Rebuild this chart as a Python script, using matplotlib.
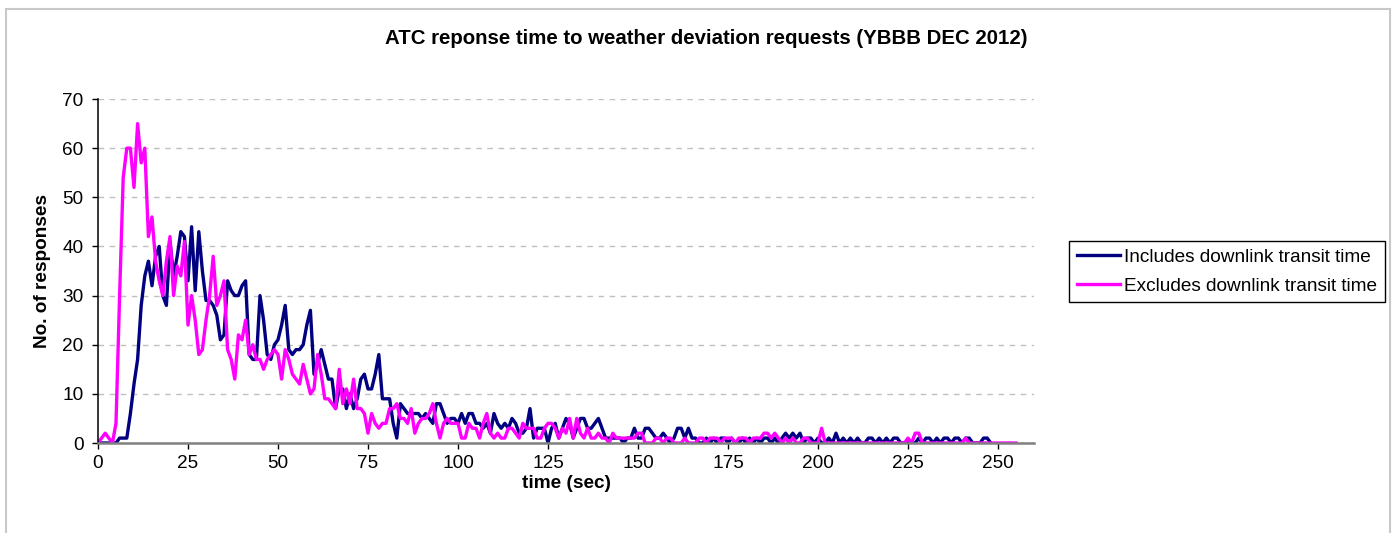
import numpy as np
import matplotlib
matplotlib.use("Agg")
import matplotlib.pyplot as plt
from matplotlib.patches import Rectangle

plt.rcParams['font.family'] = ['Liberation Sans', 'DejaVu Sans']

# counts of responses per 1 sec bin
includes = [
    0, 0, 0, 0, 0, 0, 1, 1, 1, 6,
    12, 17, 28, 34, 37, 32, 38, 40, 30, 28,
    41, 34, 38, 43, 42, 33, 44, 31, 43, 35,
    29, 29, 28, 26, 21, 22, 33, 31, 30, 30,
    32, 33, 18, 17, 17, 30, 25, 18, 17, 20,
    21, 24, 28, 19, 18, 19, 19, 20, 24, 27,
    14, 16, 19, 16, 13, 13, 7, 11, 11, 7,
    10, 7, 9, 13, 14, 11, 11, 14, 18, 9,
    9, 9, 4, 1, 8, 7, 6, 6, 6, 6,
    5, 6, 5, 4, 8, 8, 6, 4, 5, 5,
    4, 6, 4, 6, 6, 4, 4, 3, 4, 2,
    6, 4, 3, 4, 3, 5, 4, 2, 2, 3,
    7, 1, 3, 3, 3, 0, 3, 4, 1, 3,
    5, 4, 1, 3, 5, 5, 3, 3, 4, 5,
    3, 1, 1, 1, 1, 1, 0, 1, 1, 3,
    1, 1, 3, 3, 2, 1, 1, 2, 1, 0,
    1, 3, 3, 1, 3, 1, 1, 0, 0, 1,
    0, 1, 0, 1, 1, 0, 1, 0, 0, 1,
    0, 1, 0, 1, 0, 1, 1, 0, 1, 0,
    1, 2, 1, 2, 1, 2, 0, 1, 1, 0,
    1, 0, 0, 1, 0, 2, 0, 1, 0, 1,
    0, 1, 0, 0, 1, 1, 0, 1, 0, 1,
    0, 1, 1, 0, 0, 0, 0, 0, 1, 0,
    1, 1, 0, 1, 0, 1, 1, 0, 1, 1,
    0, 1, 1, 0, 0, 0, 1, 1, 0]

excludes = [
    0, 1, 2, 1, 0, 4, 30, 54, 60, 60,
    52, 65, 57, 60, 42, 46, 37, 33, 30, 37,
    42, 30, 36, 34, 41, 24, 30, 25, 18, 19,
    25, 30, 38, 28, 30, 33, 19, 17, 13, 22,
    21, 25, 18, 20, 17, 17, 15, 17, 18, 19,
    18, 13, 19, 17, 14, 13, 12, 16, 13, 10,
    11, 18, 14, 9, 9, 8, 7, 15, 8, 11,
    8, 13, 7, 7, 6, 2, 6, 4, 3, 4,
    4, 7, 7, 8, 5, 5, 4, 7, 2, 4,
    5, 5, 6, 8, 4, 1, 4, 5, 4, 4,
    4, 1, 1, 4, 3, 3, 1, 4, 6, 2,
    1, 2, 1, 1, 3, 3, 2, 1, 4, 3,
    3, 3, 1, 1, 3, 4, 4, 3, 1, 3,
    2, 5, 1, 5, 2, 1, 3, 1, 1, 2,
    1, 1, 0, 2, 1, 1, 1, 1, 1, 1,
    2, 2, 0, 0, 0, 1, 1, 0, 1, 1,
    0, 0, 0, 1, 0, 0, 0, 1, 1, 0,
    1, 1, 1, 0, 1, 1, 1, 0, 1, 1,
    1, 0, 1, 1, 1, 2, 2, 1, 2, 1,
    0, 1, 0, 1, 0, 0, 1, 1, 0, 0,
    0, 3, 0, 0, 0, 0, 0, 0, 0, 0,
    0, 0, 0, 0, 0, 0, 0, 0, 0, 0,
    0, 0, 0, 0, 0, 1, 0, 2, 2, 0,
    0, 0, 0, 0, 0, 0, 0, 0, 0, 0,
    0, 1, 0, 0, 0, 0, 0, 0, 0, 0,
    0, 0, 0, 0, 0, 0]

t_inc = np.arange(len(includes))
t_exc = np.arange(len(excludes))

xticks = [0, 25, 50, 75, 100, 125, 150, 175, 200, 225, 250]
yticks = [0, 10, 20, 30, 40, 50, 60, 70]

W, H = 1395, 533
fig = plt.figure(figsize=(W / 100, H / 100), dpi=100)
ax = fig.add_axes([98 / W, 1 - 443 / H, (1034 - 98) / W, (443 - 99) / H])

ax.plot(t_inc, includes, color='#000080', lw=2.4, label='Includes downlink transit time')
ax.plot(t_exc, excludes, color='#FF00FF', lw=2.4, label='Excludes downlink transit time')

ax.set_xlim(0, 260)
ax.set_ylim(0, 70)
ax.set_xticks(xticks)
ax.set_yticks(yticks)
ax.yaxis.grid(True, color='#c0c0c0', linestyle=(0, (4, 4)), lw=1)
ax.set_axisbelow(True)

for s in ['top', 'right']:
    ax.spines[s].set_visible(False)
ax.spines['left'].set_color('black')
ax.spines['left'].set_linewidth(1.1)
ax.spines['bottom'].set_color('#808080')
ax.spines['bottom'].set_linewidth(1.8)
ax.tick_params(axis='both', direction='out', length=4.5, width=1, color='black',
               labelsize=13.7, colors='black')
ax.tick_params(axis='y', pad=6)
ax.tick_params(axis='x', pad=4)

ax.set_xlabel('time (sec)', fontsize=13.7, fontweight='bold', labelpad=2)
ax.set_ylabel('No. of responses', fontsize=13.7, fontweight='bold', labelpad=8)

fig.text(706 / W, 1 - 39 / H, 'ATC reponse time to weather deviation requests (YBBB DEC 2012)',
         ha='center', va='center', fontsize=14.7, fontweight='bold')

leg = ax.legend(loc='upper left', bbox_to_anchor=(1069 / W, 1 - 241 / H),
                bbox_transform=fig.transFigure, borderaxespad=0, fontsize=13.7,
                frameon=True, fancybox=False, edgecolor='black', framealpha=1,
                handlelength=2.3, handletextpad=0.2, borderpad=0.4, labelspacing=0.6)
leg.get_frame().set_linewidth(1)

fig.patches.append(Rectangle((6 / W, -0.02), (1390 - 6) / W, 1 - 9 / H + 0.02,
                             transform=fig.transFigure, fill=False,
                             edgecolor='#c8c8c8', lw=1.5))

fig.savefig('out.png', dpi=100)
